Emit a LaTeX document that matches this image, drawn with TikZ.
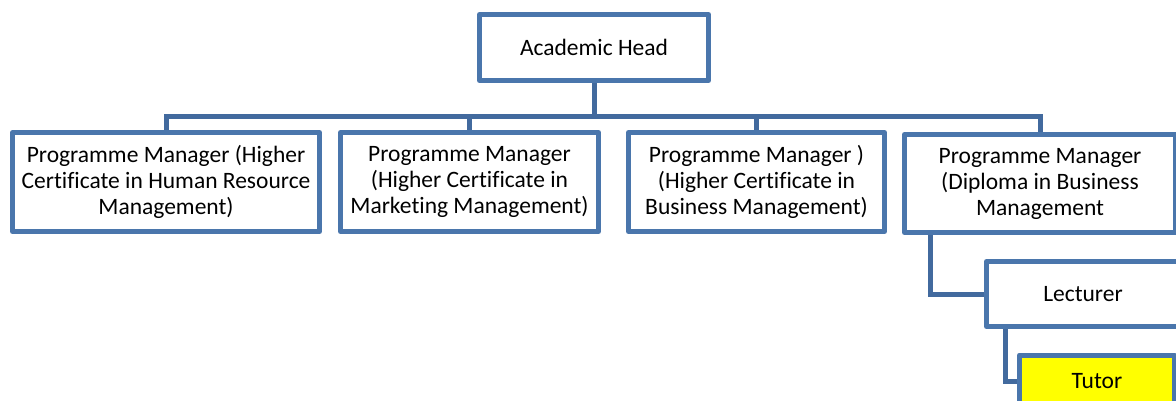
\documentclass[tikz,border=0pt]{standalone}
\usepackage{fontspec}
\setmainfont[Ligatures=NoCommon]{Carlito}
\definecolor{boxline}{RGB}{74,118,172}
\definecolor{linkline}{RGB}{66,106,158}
\definecolor{tutorfill}{RGB}{255,255,0}
\pgfdeclarelayer{links}
\pgfsetlayers{links,main}
\tikzset{
  orgbox/.style={draw=boxline, line width=5pt, line join=round, fill=white, rectangle,
    align=center, inner sep=0pt, font=\fontsize{23.5}{26}\selectfont},
  link/.style={draw=linkline, line width=5pt, line join=miter}
}
\begin{document}
\begin{tikzpicture}[x=1pt,y=-1pt]
\useasboundingbox (0,0) rectangle (1176,401);
\clip (0,0) rectangle (1176,401);
\coordinate (bus) at (0,117);

% boxes
\node[orgbox, minimum width=229pt, minimum height=66pt] (head) at (594,47.5) {Academic Head};
\node[orgbox, minimum width=307pt, minimum height=99pt] (hc1) at (166,182)
  {Programme Manager (Higher\\Certificate in Human Resource\\Management)};
\node[orgbox, minimum width=258pt, minimum height=99pt] (hc2) at (469.5,182)
  {Programme Manager\\(Higher Certificate in\\Marketing Management)};
\node[orgbox, minimum width=256pt, minimum height=99pt] (hc3) at (756.5,182)
  {Programme Manager )\\(Higher Certificate in\\Business Management)};
\node[orgbox, minimum width=271pt, minimum height=98pt] (dip) at (1040,183.5)
  {Programme Manager\\(Diploma in Business\\Management};
\node[orgbox, minimum width=193pt, minimum height=65pt] (lect) at (1083,294) {Lecturer};
\node[orgbox, fill=tutorfill, minimum width=155pt, minimum height=52pt] (tutor) at (1097,381) {Tutor};

% white page and connectors, beneath the boxes
\begin{pgfonlayer}{links}
\fill[white] (0,0) rectangle (1176,401);
\draw[link] (head.south) -- (head.south |- bus);
\draw[link] (hc1.north) -- (hc1.north |- bus) -- (dip.north |- bus) -- (dip.north);
\draw[link] (hc2.north) -- (hc2.north |- bus);
\draw[link] (hc3.north) -- (hc3.north |- bus);
\draw[link] ([xshift=28pt]dip.south west) |- (lect.west);
\draw[link] ([xshift=21pt]lect.south west) |- (tutor.west);
\end{pgfonlayer}
\end{tikzpicture}
\end{document}
